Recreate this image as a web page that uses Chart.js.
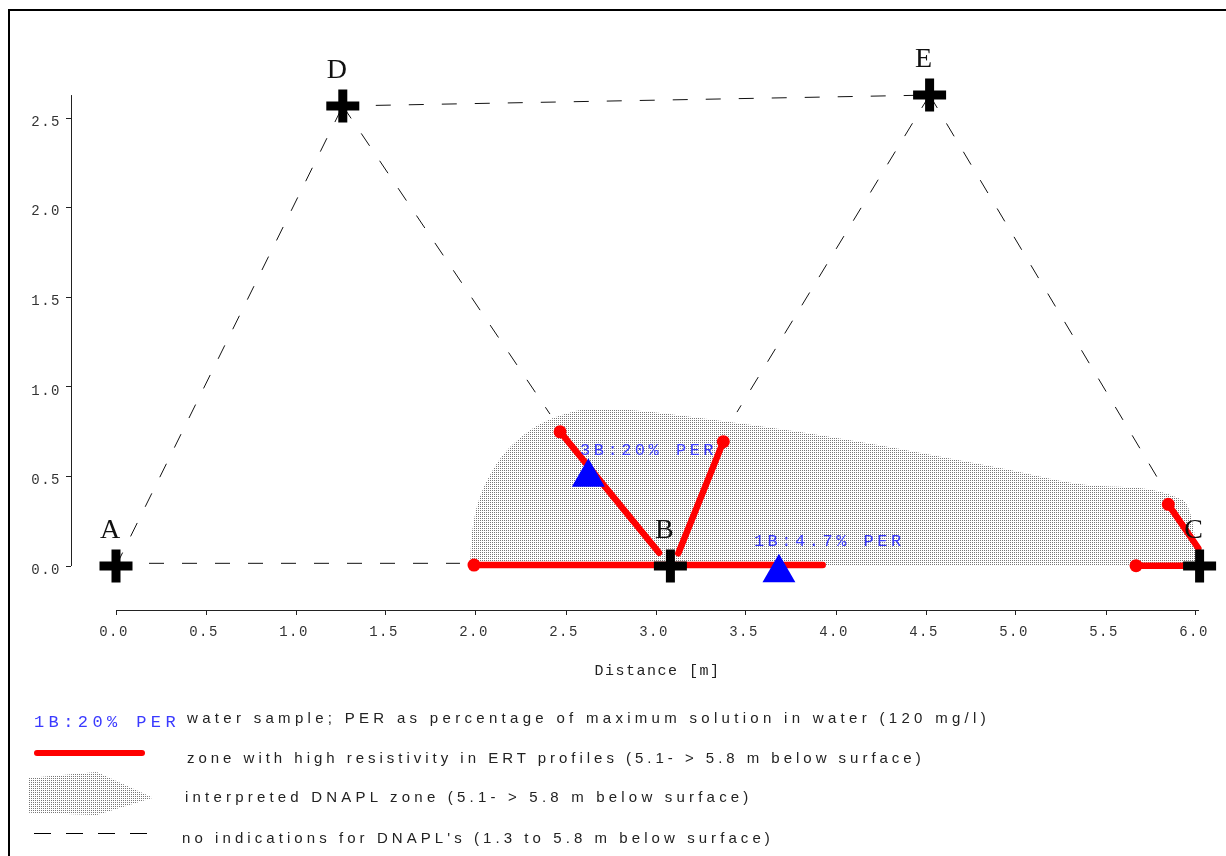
<!DOCTYPE html>
<html>
<head>
<meta charset="utf-8">
<script src="https://cdn.jsdelivr.net/npm/chart.js@4.4.1/dist/chart.umd.min.js"></script>
<style>
  html, body { margin: 0; padding: 0; background: #fff; overflow: hidden; }
  #wrap { position: relative; width: 1226px; height: 856px; }
  #frame { position: absolute; left: 8px; top: 9px; width: 1240px; height: 870px; border: 2px solid #000; box-sizing: border-box; pointer-events: none; }
  canvas { position: absolute; left: 0; top: 0; }
  .lg { position: absolute; font: 15px/15px "Liberation Sans", Arial, sans-serif; letter-spacing: 4.2px; color: #222; white-space: nowrap; }
  .lg-sample { position: absolute; left: 34px; top: 714px; font: 17px/17px "Liberation Mono", monospace; letter-spacing: 4.4px; color: #3a3aff; white-space: nowrap; }
  .lg-red { position: absolute; left: 34px; top: 750px; width: 111px; height: 6px; border-radius: 3px; background: #ff0000; }
  .lg-zone { position: absolute; left: 28px; top: 772px; width: 125px; height: 43px;
    background-image: conic-gradient(#777 0 25%, #fff 0); background-size: 2px 2px;
    clip-path: polygon(0 14%, 55% 0, 100% 60%, 55% 100%, 0 95%); }
  .lg-dash { position: absolute; left: 34px; top: 833px; width: 113px; height: 1px;
    background: repeating-linear-gradient(to right, #000 0 17px, transparent 17px 32px); }
</style>
</head>
<body>
<div id="wrap">
  <canvas id="chart" width="1226" height="856"></canvas>
  <div class="lg-sample">1B:20% PER</div>
  <div class="lg" style="left:187px;top:710px;letter-spacing:4.3px">water sample; PER as percentage of maximum solution in water (120 mg/l)</div>
  <div class="lg-red"></div>
  <div class="lg" style="left:187px;top:750px;letter-spacing:3.98px">zone with high resistivity in ERT profiles (5.1- &gt; 5.8 m below surface)</div>
  <div class="lg-zone"></div>
  <div class="lg" style="left:185px;top:789px">interpreted DNAPL zone (5.1- &gt; 5.8 m below surface)</div>
  <div class="lg-dash"></div>
  <div class="lg" style="left:182px;top:830px;letter-spacing:4.07px">no indications for DNAPL's (1.3 to 5.8 m below surface)</div>
  <div id="frame"></div>
</div>
<script>
// Measurement stations (crosses)
const stationNames = ['A', 'B', 'C', 'D', 'E'];
const stationX = [0, 3.08, 6.02, 1.26, 4.52];
const stationY = [0, 0, 0, 2.567, 2.628];

// Water samples (blue triangles) and their text anchors
const sampleNames = ['3B:20% PER', '1B:4.7% PER'];
const sampleX = [2.624, 3.683];
const sampleY = [0.495, -0.037];
const sampleLabelX = [2.578, 3.544];
const sampleLabelY = [0.619, 0.112];

// High resistivity zones in ERT profiles: [x1, y1, x2, y2], dot at first end
const ertSegments = [
    [1.989, 0.005, 3.926, 0.005],
    [2.467, 0.749, 3.017, 0.074],
    [3.374, 0.694, 3.124, 0.071],
    [5.667, 0.002, 5.99, 0.002],
    [5.846, 0.344, 6.013, 0.099]
];

// Profiles without DNAPL indications (dashed): [x1, y1, x2, y2]
const noIndicationSegments = [
    [0, 0.015, 1.911, 0.015],
    [0, 0, 1.26, 2.567],
    [1.26, 2.567, 4.52, 2.628],
    [1.26, 2.567, 2.411, 0.848],
    [4.52, 2.628, 3.45, 0.859],
    [4.52, 2.628, 5.783, 0.497]
];

// Interpreted DNAPL zone, upper outline
const zoneX = [1.967, 1.972, 1.989, 2.022, 2.078, 2.15, 2.244, 2.356, 2.494, 2.633, 2.856, 3.244, 3.8, 4.356, 4.911, 5.467, 5.9, 6.006, 6.011];
const zoneY = [0, 0.117, 0.257, 0.385, 0.508, 0.619, 0.714, 0.792, 0.848, 0.876, 0.87, 0.826, 0.748, 0.653, 0.547, 0.446, 0.38, 0.073, 0];

// Axes
const xTicks = [0, 0.5, 1, 1.5, 2, 2.5, 3, 3.5, 4, 4.5, 5, 5.5, 6];
const xTickLabels = ['0.0', '0.5', '1.0', '1.5', '2.0', '2.5', '3.0', '3.5', '4.0', '4.5', '5.0', '5.5', '6.0'];
const yTicks = [0, 0.5, 1, 1.5, 2, 2.5];
const yTickLabels = ['0.0', '0.5', '1.0', '1.5', '2.0', '2.5'];
const xAxisEnd = 6.017;
const yAxisEnd = 2.628;
const xTitle = 'Distance [m]';

const ctx = document.getElementById('chart').getContext('2d');

// fine stipple used for the DNAPL zone
const dotPattern = (() => {
    const c = document.createElement('canvas');
    c.width = 2; c.height = 2;
    const g = c.getContext('2d');
    g.fillStyle = '#777';
    g.fillRect(0, 0, 1, 1);
    return ctx.createPattern(c, 'repeat');
})();

const datasets = [];

datasets.push({
    label: 'stations',
    data: stationX.map((x, i) => ({ x, y: stationY[i] })),
    showLine: false,
    pointStyle: 'cross',
    pointRadius: 16.5,
    pointBorderWidth: 9,
    pointBorderColor: '#000',
    pointBackgroundColor: '#000',
    clip: false
});

datasets.push({
    label: 'samples',
    data: sampleX.map((x, i) => ({ x, y: sampleY[i] })),
    showLine: false,
    pointStyle: 'triangle',
    pointRadius: 19,
    pointBorderWidth: 0,
    pointBackgroundColor: '#0000ff',
    clip: false
});

ertSegments.forEach(s => {
    datasets.push({
        label: 'ert',
        data: [{ x: s[0], y: s[1] }, { x: s[2], y: s[3] }],
        borderColor: '#ff0000',
        borderWidth: 6.5,
        borderCapStyle: 'round',
        pointRadius: [6.5, 0],
        pointBorderWidth: 0,
        pointBackgroundColor: '#ff0000',
        clip: false
    });
});

noIndicationSegments.forEach(s => {
    datasets.push({
        label: 'none',
        data: [{ x: s[0], y: s[1] }, { x: s[2], y: s[3] }],
        borderColor: '#111',
        borderWidth: 1,
        borderDash: [15, 18],
        pointRadius: 0,
        clip: false
    });
});

datasets.push({
    label: 'zone',
    data: zoneX.map((x, i) => ({ x, y: zoneY[i] })),
    borderColor: 'transparent',
    borderWidth: 0,
    backgroundColor: dotPattern,
    fill: 'origin',
    cubicInterpolationMode: 'monotone',
    pointRadius: 0,
    clip: false
});

const overlayPlugin = {
    id: 'overlay',
    beforeDraw(chart) {
        chart.ctx.letterSpacing = '1.5px';
    },
    afterDraw(chart) {
        const { ctx, chartArea } = chart;
        const x = chart.scales.x, y = chart.scales.y;
        ctx.save();
        // axis lines, only over the data range
        ctx.strokeStyle = '#222';
        ctx.lineWidth = 1;
        ctx.beginPath();
        const by = Math.round(chartArea.bottom) + 0.5;
        ctx.moveTo(x.getPixelForValue(0), by);
        ctx.lineTo(x.getPixelForValue(xAxisEnd), by);
        const lx = Math.round(chartArea.left) + 0.5;
        ctx.moveTo(lx, y.getPixelForValue(0));
        ctx.lineTo(lx, y.getPixelForValue(yAxisEnd));
        ctx.stroke();

        // axis title centred under the axis line
        ctx.letterSpacing = '1.5px';
        ctx.fillStyle = '#222';
        ctx.font = '15px "Liberation Mono", monospace';
        ctx.textAlign = 'center';
        ctx.textBaseline = 'alphabetic';
        ctx.fillText(xTitle, (x.getPixelForValue(0) + x.getPixelForValue(xAxisEnd)) / 2, chartArea.bottom + 65);

        // station letters
        ctx.letterSpacing = '0px';
        ctx.font = '28px "Liberation Serif", serif';
        ctx.fillStyle = '#111';
        stationNames.forEach((n, i) => {
            ctx.fillText(n, x.getPixelForValue(stationX[i]) - 6, y.getPixelForValue(stationY[i]) - 28);
        });

        // sample annotations
        ctx.letterSpacing = '3.5px';
        ctx.font = '17px "Liberation Mono", monospace';
        ctx.fillStyle = '#3a3aff';
        ctx.textAlign = 'left';
        sampleNames.forEach((n, i) => {
            ctx.fillText(n, x.getPixelForValue(sampleLabelX[i]), y.getPixelForValue(sampleLabelY[i]));
        });
        ctx.restore();
    }
};

new Chart(ctx, {
    type: 'line',
    data: { datasets },
    options: {
        responsive: false,
        animation: false,
        events: [],
        layout: { padding: { left: 10, top: 40, right: 11, bottom: 166 } },
        scales: {
            x: {
                type: 'linear',
                min: -0.25,
                max: 6.025,
                afterFit: (s) => { s.height = 80; s.paddingLeft = 0; s.paddingRight = 0; },
                afterBuildTicks: (s) => { s.ticks = xTicks.map(v => ({ value: v })); },
                border: { display: false },
                grid: { drawOnChartArea: false, tickLength: 5, color: '#222' },
                ticks: {
                    callback: (v, i) => xTickLabels[i],
                    autoSkip: false,
                    maxRotation: 0,
                    padding: 9,
                    labelOffset: -2,
                    color: '#333',
                    font: { family: '"Liberation Mono", monospace', size: 14 }
                }
            },
            y: {
                type: 'linear',
                min: -0.2455,
                max: 2.9353,
                afterFit: (s) => { s.width = 61; s.paddingTop = 0; s.paddingBottom = 0; },
                afterBuildTicks: (s) => { s.ticks = yTicks.map(v => ({ value: v })); },
                border: { display: false },
                grid: { drawOnChartArea: false, tickLength: 5, color: '#222' },
                ticks: {
                    callback: (v, i) => yTickLabels[i],
                    padding: 5,
                    labelOffset: 4,
                    color: '#333',
                    font: { family: '"Liberation Mono", monospace', size: 14 }
                }
            }
        },
        plugins: {
            legend: { display: false },
            tooltip: { enabled: false }
        }
    },
    plugins: [overlayPlugin]
});
</script>
</body>
</html>
